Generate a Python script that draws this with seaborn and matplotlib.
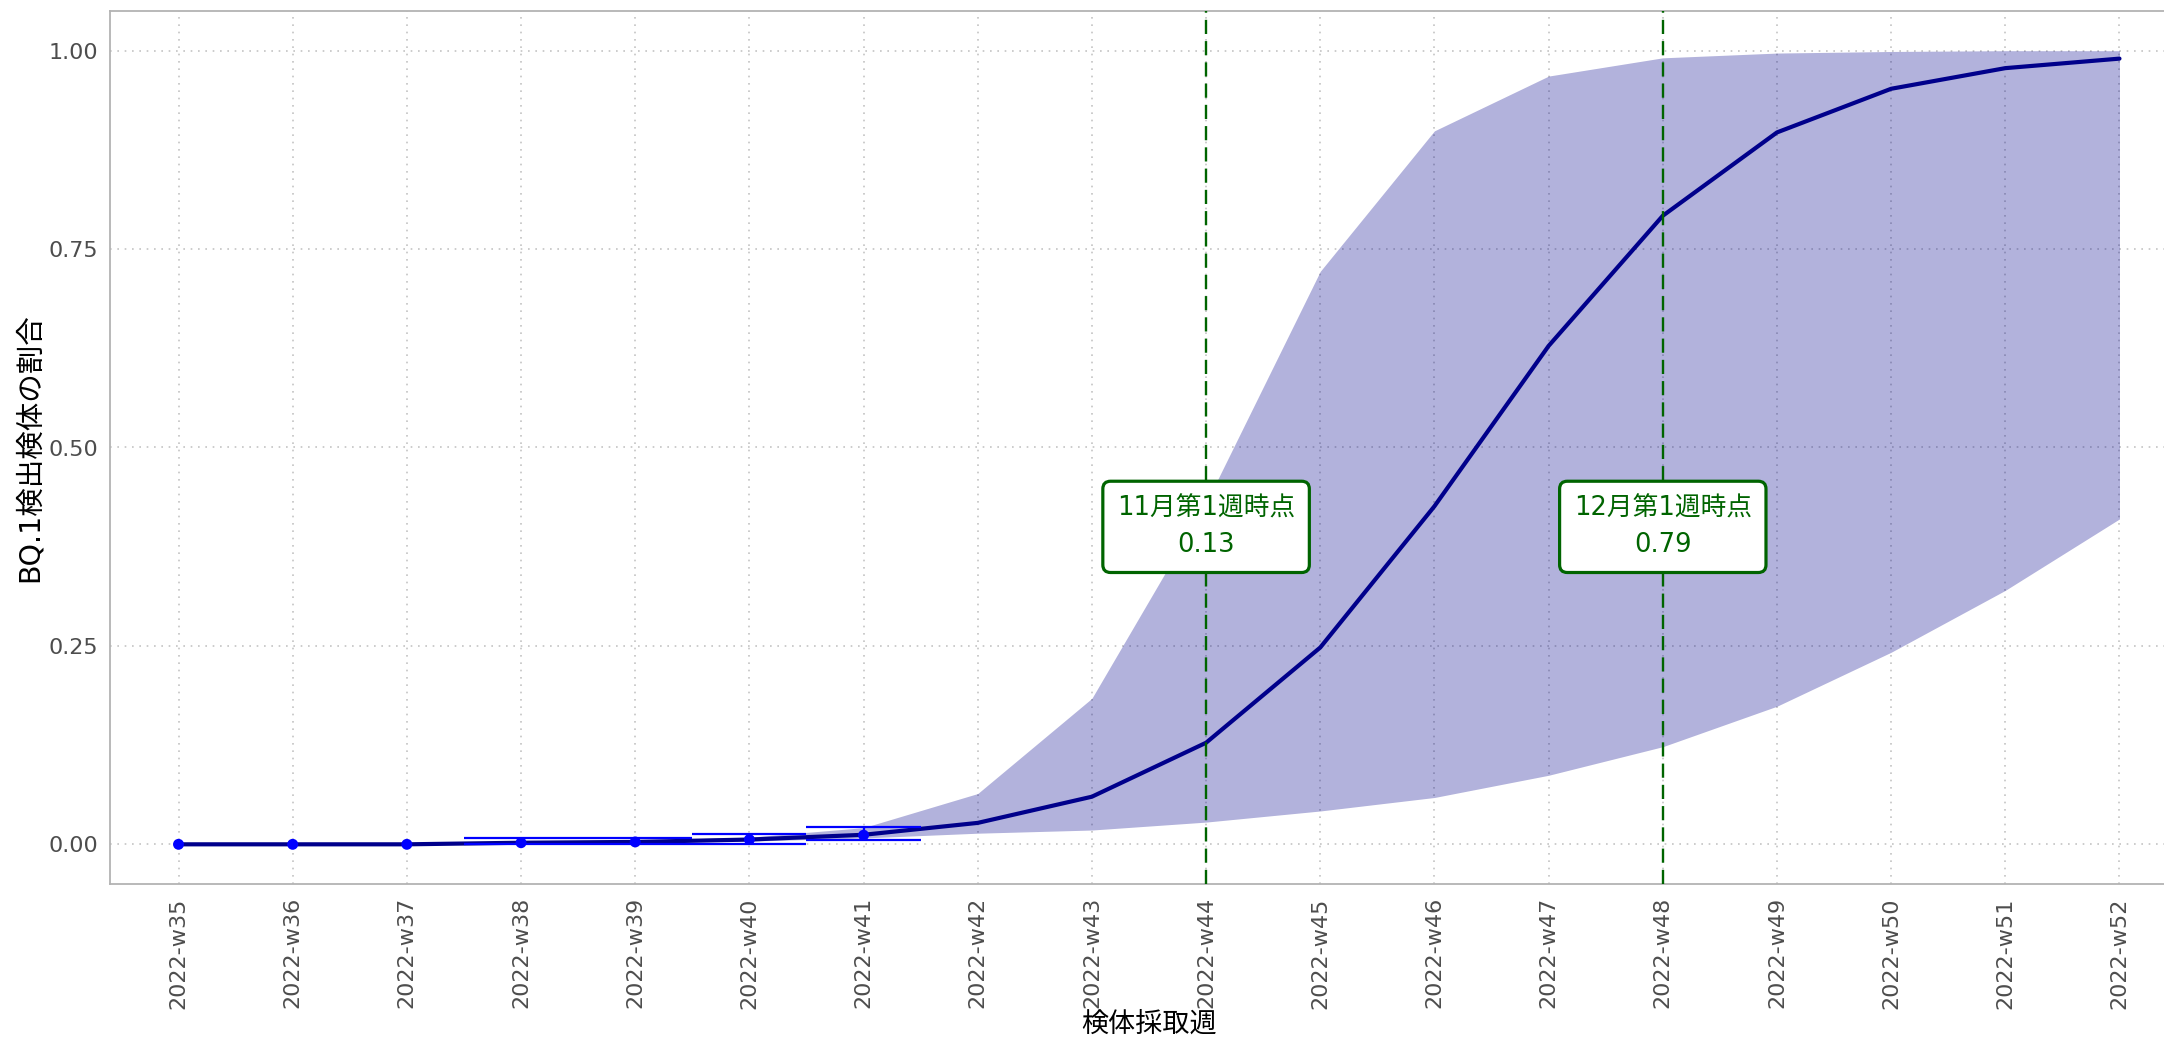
import numpy as np
import matplotlib
matplotlib.use("Agg")
import matplotlib.pyplot as plt
import seaborn as sns

# Week labels (sampling week)
weeks = ["2022-w35", "2022-w36", "2022-w37", "2022-w38", "2022-w39", "2022-w40",
         "2022-w41", "2022-w42", "2022-w43", "2022-w44", "2022-w45", "2022-w46",
         "2022-w47", "2022-w48", "2022-w49", "2022-w50", "2022-w51", "2022-w52"]

# Fitted proportion of BQ.1 and its credible band
fit_prop = [0.0, 0.0, 0.0, 0.002, 0.003, 0.006, 0.012, 0.027, 0.060, 0.128, 0.248,
            0.426, 0.628, 0.792, 0.897, 0.952, 0.978, 0.990]
band_lower = [0.0, 0.0, 0.0, 0.001, 0.002, 0.004, 0.008, 0.014, 0.018, 0.028, 0.042,
              0.059, 0.087, 0.123, 0.174, 0.242, 0.320, 0.410]
band_upper = [0.0, 0.0, 0.001, 0.003, 0.005, 0.009, 0.021, 0.064, 0.184, 0.430, 0.722,
              0.899, 0.968, 0.991, 0.997, 0.999, 1.0, 1.0]

# Observed proportions with intervals
obs_weeks = ["2022-w35", "2022-w36", "2022-w37", "2022-w38", "2022-w39", "2022-w40", "2022-w41"]
obs_prop = [0.0, 0.0, 0.0, 0.002, 0.003, 0.006, 0.0115]
ci_weeks = ["2022-w38", "2022-w39", "2022-w40", "2022-w41"]
ci_lower = [0.0, 0.0, 0.001, 0.0055]
ci_upper = [0.008, 0.008, 0.0126, 0.022]

# Reference weeks with annotation
mark_weeks = ["2022-w44", "2022-w48"]
mark_titles = ["11月第1週時点", "12月第1週時点"]
mark_label_y = 0.40

sns.set_style("white")
plt.rcParams["font.family"] = ["DejaVu Sans", "Noto Sans CJK JP"]

W, H = 2164, 1040
fig = plt.figure(figsize=(W / 100, H / 100), dpi=100)
ax = fig.add_axes([110 / W, (H - 884) / H, 2078 / W, 873 / H])

pos = {w: i for i, w in enumerate(weeks)}
x = np.arange(len(weeks))

dark = "#00008B"
green = "#006400"

ax.fill_between(x, band_lower, band_upper, color=dark, alpha=0.3, linewidth=0, zorder=2)
sns.lineplot(x=x, y=fit_prop, color=dark, linewidth=3.0, ax=ax, zorder=3)

cx = np.array([pos[w] for w in ci_weeks])
ax.vlines(cx, ci_lower, ci_upper, color="#0000FF", linewidth=1.6, zorder=4)
ax.hlines(ci_lower, cx - 0.5, cx + 0.5, color="#0000FF", linewidth=1.6, zorder=4)
ax.hlines(ci_upper, cx - 0.5, cx + 0.5, color="#0000FF", linewidth=1.6, zorder=4)
sns.scatterplot(x=[pos[w] for w in obs_weeks], y=obs_prop, color="#0000FF", s=62,
                edgecolor="none", ax=ax, zorder=5)

for w, title in zip(mark_weeks, mark_titles):
    i = pos[w]
    ax.axvline(i, color=green, linewidth=1.7, dashes=(6, 3), zorder=6)
    ax.text(i, mark_label_y, f"{title}\n{fit_prop[i]:.2f}", ha="center", va="center",
            color=green, fontsize=18.5, linespacing=1.55, zorder=7,
            bbox=dict(boxstyle="round,pad=0.55,rounding_size=0.3", facecolor="white",
                      edgecolor=green, linewidth=2.3))

ax.set_xlim(-0.6, len(weeks) - 0.4)
ax.set_ylim(-0.05, 1.05)
ax.set_xticks(x)
ax.set_xticklabels(weeks, rotation=90)
ax.set_yticks([0, 0.25, 0.5, 0.75, 1.0])
ax.set_yticklabels(["0.00", "0.25", "0.50", "0.75", "1.00"])

ax.set_axisbelow(True)
ax.grid(True, color="#C4C4C4", linewidth=1.2, linestyle=(0, (1, 3.4)))
for s in ax.spines.values():
    s.set_color("#B3B3B3")
    s.set_linewidth(1.3)

ax.tick_params(axis="both", length=4.5, width=1.2, color="#333333",
               labelcolor="#4D4D4D", labelsize=16, pad=4)
ax.tick_params(axis="x", pad=5)

ax.set_ylabel("BQ.1検出検体の割合", fontsize=20.5, color="black", va="center")
ax.yaxis.set_label_coords(-0.0385, 0.5)
ax.set_xlabel("検体採取週", fontsize=19.5, color="black", va="center")
ax.xaxis.set_label_coords(0.5, -0.1615)

fig.savefig("out.png", dpi=100)
